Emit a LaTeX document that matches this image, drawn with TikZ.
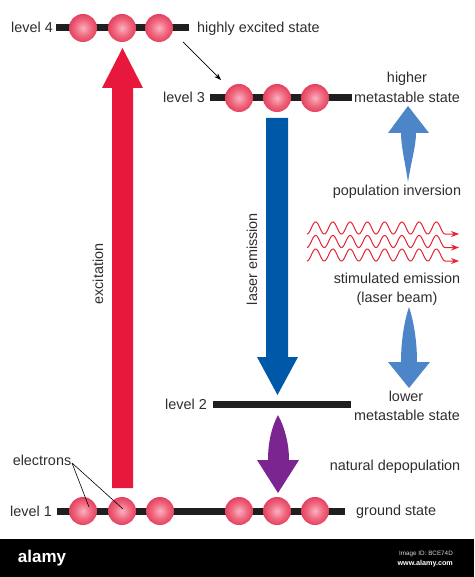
\documentclass[tikz,border=0pt]{standalone}
\usepackage{fontspec}
\setmainfont{Liberation Sans}
\usetikzlibrary{arrows.meta,calc}
\definecolor{exred}{RGB}{232,24,60}
\definecolor{laserblue}{RGB}{0,88,168}
\definecolor{softblue}{RGB}{76,134,200}
\definecolor{depurple}{RGB}{123,38,144}
\definecolor{ballin}{RGB}{250,178,192}
\definecolor{ballmid}{RGB}{240,105,128}
\definecolor{ballout}{RGB}{222,48,80}
\definecolor{wavered}{RGB}{228,36,52}
\pgfdeclareradialshading{ballshade}{\pgfpoint{0bp}{0bp}}{color(0bp)=(ballin); color(14bp)=(ballmid); color(30bp)=(ballout); color(50bp)=(ballout)}
\begin{document}
\begin{tikzpicture}[x=1pt,y=-1pt,
  lbl/.style={font=\fontsize{14.4}{17}\selectfont, inner sep=0pt, text=black!82},
  levelbar/.style={line width=7pt, black!88},
  ball/.style={circle, minimum size=28pt, inner sep=0pt, shading=ballshade},
  wave/.style={wavered, line width=1pt},
  pointer/.style={line width=0.7pt, black}
]
\useasboundingbox (0,0) rectangle (474,577);
\fill[white] (0,0) rectangle (474,577);

% level bars
\coordinate (l4a) at (56,28);  \coordinate (l4b) at (189,28);
\coordinate (l3a) at (210,98); \coordinate (l3b) at (352,98);
\coordinate (l2a) at (213,404); \coordinate (l2b) at (351,404);
\coordinate (l1a) at (57,511); \coordinate (l1b) at (345,511);
\draw[levelbar] (l4a) -- (l4b);
\draw[levelbar] (l3a) -- (l3b);
\draw[levelbar] (l2a) -- (l2b);
\draw[levelbar] (l1a) -- (l1b);

% electrons
\node[ball] (b41) at (83,28) {};
\node[ball] (b42) at (122,28) {};
\node[ball] (b43) at (159,28) {};
\node[ball] (b31) at (239,98) {};
\node[ball] (b32) at (277,98) {};
\node[ball] (b33) at (315,98) {};
\node[ball] (b11) at (83,511) {};
\node[ball] (b12) at (122,511) {};
\node[ball] (b13) at (160,511) {};
\node[ball] (b14) at (239,511) {};
\node[ball] (b15) at (277,511) {};
\node[ball] (b16) at (315,511) {};

% excitation arrow
\fill[exred] (112,488) -- (112,88) -- (102,88) -- (122.5,48) -- (143,88) -- (133,88) -- (133,488) -- cycle;
% laser emission arrow
\fill[laserblue] (266,118) -- (266,357) -- (257,357) -- (277.5,395) -- (298,357) -- (288,357) -- (288,118) -- cycle;
% population inversion arrow
\fill[softblue] (408,182) .. controls (405,162) and (401,146) .. (401,133) -- (388,133) -- (408,106) -- (429,133) -- (416,133) .. controls (416,146) and (411,162) .. (408,182) -- cycle;
% lower arrow
\fill[softblue] (409,307) .. controls (404,322) and (401,342) .. (401,362) -- (388,362) -- (409,388) -- (430,362) -- (417,362) .. controls (417,342) and (414,322) .. (409,307) -- cycle;
% natural depopulation arrow
\fill[depurple] (278,415) .. controls (271,428) and (268,444) .. (268,460) -- (257,460) -- (278,493) -- (299,460) -- (289,460) .. controls (289,444) and (285,428) .. (278,415) -- cycle;

% small transition arrow
\coordinate (t4) at (183,42);
\coordinate (t3) at (221,80);
\draw[pointer, -{Stealth[length=7pt,width=5pt]}] (t4) -- (t3);

% stimulated emission waves
\foreach \yy in {228,241.5,255}{
  \draw[wave, -{Stealth[length=8pt,width=6pt]}] plot[domain=0:138, samples=277] ({\x+307},{\yy+6*cos(20.869565*\x)}) -- (459,\yy+6);
}

% labels
\node[lbl, anchor=base east] (t_l4) at (53,33) {level 4};
\node[lbl, anchor=base west] (t_hes) at (197,33) {highly excited state};
\node[lbl, anchor=base east] (t_l3) at (205,103) {level 3};
\node[lbl, anchor=base] (t_hi) at (407,83) {higher};
\node[lbl, anchor=base] (t_ms1) at (407,103) {metastable state};
\node[lbl, anchor=base] (t_pi) at (397,196) {population inversion};
\node[lbl, anchor=base] (t_se) at (397,283) {stimulated emission};
\node[lbl, anchor=base] (t_lb) at (397,302) {(laser beam)};
\node[lbl, anchor=base] (t_lo) at (406,401) {lower};
\node[lbl, anchor=base] (t_ms2) at (407,420) {metastable state};
\node[lbl, anchor=base east] (t_l2) at (207,409) {level 2};
\node[lbl, anchor=base] (t_nd) at (395,470) {natural depopulation};
\node[lbl, anchor=base] (t_el) at (42,465) {electrons};
\node[lbl, anchor=base east] (t_l1) at (52,516) {level 1};
\node[lbl, anchor=base west] (t_gs) at (356,515) {ground state};
\node[lbl, rotate=90] (t_ex) at (98,274) {excitation};
\node[lbl, rotate=90] (t_le) at (252,259) {laser emission};

% electron pointers
\coordinate (e0) at (72,463);
\draw[pointer, line width=0.6pt] (e0) -- ($(b11)+(6,-4)$);
\draw[pointer, line width=0.6pt] (e0) -- ($(b12)+(1,-2)$);

% banner
\fill[black] (0,539) rectangle (474,577);
\node[font=\bfseries\fontsize{17}{19}\selectfont, text=white, inner sep=0pt, anchor=base] (w1) at (42,562) {alamy};
\node[font=\fontsize{6.3}{7}\selectfont, text=white!85!black, inner sep=0pt, anchor=base east] (w2) at (453,555) {Image ID: BCE74D};
\node[font=\bfseries\fontsize{7.2}{8}\selectfont, text=white, inner sep=0pt, anchor=base east] (w3) at (453,565) {www.alamy.com};
\end{tikzpicture}
\end{document}
